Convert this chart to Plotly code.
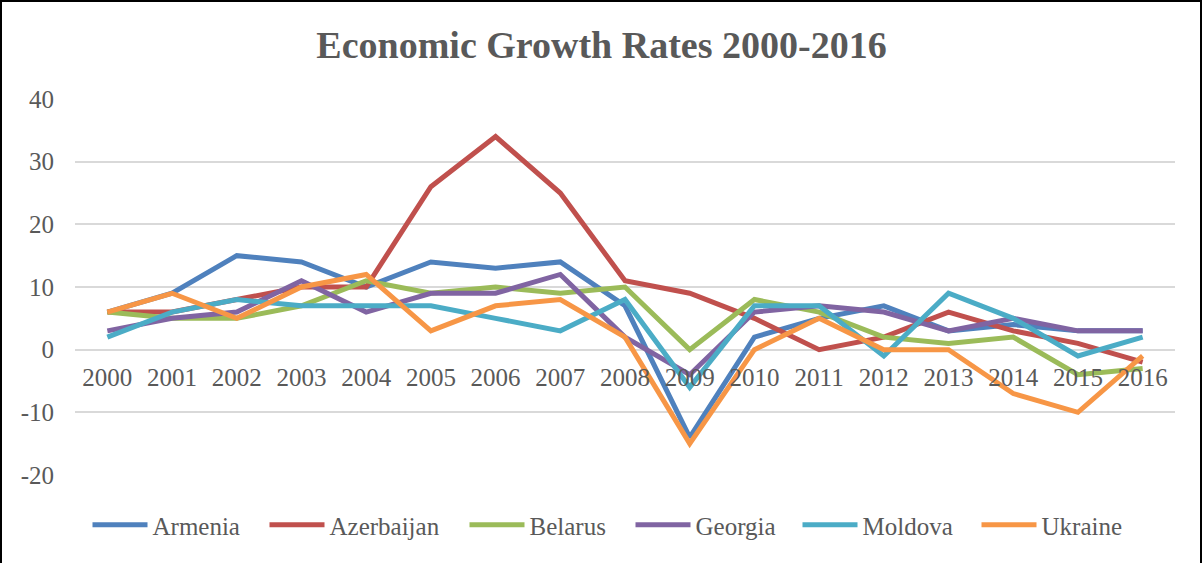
import plotly.graph_objects as go

years = [str(y) for y in range(2000, 2017)]
armenia    = [6, 9, 15, 14, 10, 14, 13, 14, 7, -14, 2, 5, 7, 3, 4, 3, 3]
azerbaijan = [6, 6, 8, 10, 10, 26, 34, 25, 11, 9, 5, 0, 2, 6, 3, 1, -2]
belarus    = [6, 5, 5, 7, 11, 9, 10, 9, 10, 0, 8, 6, 2, 1, 2, -4, -3]
georgia    = [3, 5, 6, 11, 6, 9, 9, 12, 2, -4, 6, 7, 6, 3, 5, 3, 3]
moldova    = [2, 6, 8, 7, 7, 7, 5, 3, 8, -6, 7, 7, -1, 9, 5, -1, 2]
ukraine    = [6, 9, 5, 10, 12, 3, 7, 8, 2, -15, 0, 5, 0, 0, -7, -10, -1]

y_tickvals = [-20, -10, 0, 10, 20, 30, 40]
y_ticktext = ["-20", "-10", "0", "10", "20", "30", "40"]

series = [
    ("Armenia", armenia),
    ("Azerbaijan", azerbaijan),
    ("Belarus", belarus),
    ("Georgia", georgia),
    ("Moldova", moldova),
    ("Ukraine", ukraine),
]

# styling (kept separate from data)
colors = ["#4F81BD", "#C0504D", "#9BBB59", "#8064A2", "#4BACC6", "#F79646"]
legend_widths = [107, 130, 96, 97, 109, 90]

W, H = 1203, 563
L, R, T, B = 75, 28, 99, 88
pw, ph = W - L - R, H - T - B

fig = go.Figure()
for (name, vals), col, lw in zip(series, colors, legend_widths):
    fig.add_trace(go.Scatter(x=years, y=vals, name=name, mode="lines",
                             line=dict(color=col, width=5), legendwidth=lw))

serif = "Liberation Serif"
fig.update_layout(
    width=W, height=H,
    margin=dict(l=L, r=R, t=T, b=B),
    paper_bgcolor="white", plot_bgcolor="white",
    title=dict(text="<b>Economic Growth Rates 2000-2016</b>", x=0.5, xref="container",
               xanchor="center", y=1 - 45 / H, yanchor="middle",
               font=dict(family=serif, size=38, color="#595959")),
    xaxis=dict(type="category", range=[-0.5, 16.5], showgrid=False, showline=False,
               zeroline=False, anchor="free", position=20 / 60, ticks="",
               ticklabelstandoff=10,
               tickfont=dict(family=serif, size=25, color="#595959")),
    yaxis=dict(range=[-20, 40], tickvals=y_tickvals, ticktext=y_ticktext,
               showgrid=True, gridcolor="#D9D9D9",
               gridwidth=2, zeroline=False, showline=False, ticks="",
               ticklabelstandoff=20,
               tickfont=dict(family=serif, size=25, color="#595959")),
    legend=dict(orientation="h", x=(612 - L) / pw, xanchor="center",
                y=(T + ph - 525) / ph, yanchor="middle", itemwidth=55,
                font=dict(family=serif, size=25, color="#595959")),
    showlegend=True,
    shapes=[dict(type="rect", xref="paper", yref="paper",
                 x0=(1 - L) / pw, x1=(W - 2 - L) / pw,
                 y0=(T + ph - (H + 5)) / ph, y1=(T + ph - 1) / ph,
                 line=dict(color="black", width=2), fillcolor="rgba(0,0,0,0)")],
)

fig.write_html("out.html")
